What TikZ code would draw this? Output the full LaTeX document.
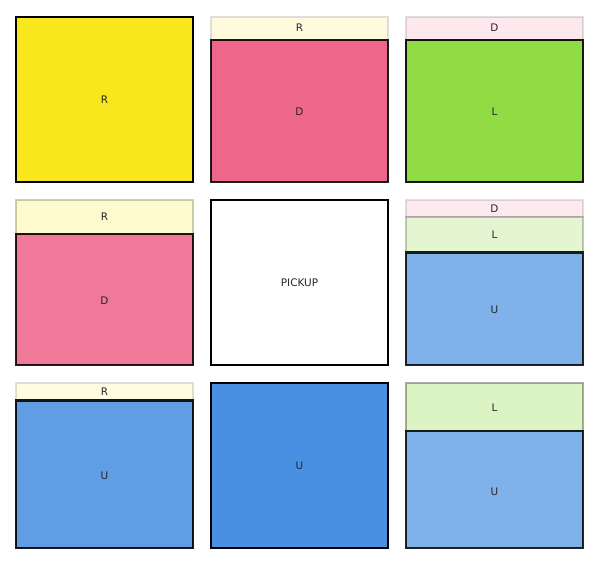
\documentclass[tikz,border=0pt]{standalone}
\usepackage{fontspec}
\newfontfamily\lblfont{DejaVu Sans}
\definecolor{yellowR}{HTML}{F8E71C}
\definecolor{pinkD}{HTML}{EE668A}
\definecolor{greenL}{HTML}{91DB45}
\definecolor{blueU}{HTML}{4A90E2}
\tikzset{
    layer/.style 2 args={fill=#1, draw=black, draw opacity=#2, line width=2.5pt},
    lbl/.style={font=\lblfont\fontsize{8.9}{10}\selectfont, text=black!85, inner sep=0pt}
}
\begin{document}
\begin{tikzpicture}[x=0.03cm, y=-0.03cm]

        \useasboundingbox (0,0) rectangle (600,565);

        %-- Hàng 1 --
        \path[layer={yellowR}{1}] (16,17) rectangle (193,182);
        \node[lbl] (a1R) at (104.5,100) {R};

        \path[layer={yellowR!15}{0.12}] (211,17) rectangle (388,40);
        \path[layer={pinkD}{0.88}] (211,40) rectangle (388,182);
        \node[lbl] (a2R) at (299.5,28) {R};
        \node[lbl] (a2D) at (299.5,112) {D};

        \path[layer={pinkD!15}{0.12}] (406,17) rectangle (583,40);
        \path[layer={greenL}{0.9}] (406,40) rectangle (583,182);
        \node[lbl] (a3D) at (494.5,28) {D};
        \node[lbl] (a3L) at (494.5,112) {L};

        %-- Hàng 2 --
        \path[layer={yellowR!22}{0.2}] (16,200) rectangle (193,234);
        \path[layer={pinkD!88}{0.88}] (16,234) rectangle (193,365);
        \node[lbl] (b1R) at (104.5,217) {R};
        \node[lbl] (b1D) at (104.5,301) {D};

        \path[layer={white}{1}] (211,200) rectangle (388,365);
        \node[lbl] (b2P) at (299.5,283) {PICKUP};

        \path[layer={pinkD!14}{0.12}] (406,200) rectangle (583,217);
        \path[layer={greenL!25}{0.22}] (406,217) rectangle (583,252.5);
        \path[layer={blueU!70}{0.85}] (406,252.5) rectangle (583,365);
        \node[lbl] (b3D) at (494.5,208.5) {D};
        \node[lbl] (b3L) at (494.5,234.5) {L};
        \node[lbl] (b3U) at (494.5,310) {U};

        %-- Hàng 3 --
        \path[layer={yellowR!13}{0.12}] (16,383) rectangle (193,400.5);
        \path[layer={blueU!88}{0.9}] (16,400.5) rectangle (193,548);
        \node[lbl] (c1R) at (104.5,391.5) {R};
        \node[lbl] (c1U) at (104.5,475.5) {U};

        \path[layer={blueU}{1}] (211,383) rectangle (388,548);
        \node[lbl] (c2U) at (299.5,466) {U};

        \path[layer={greenL!32}{0.32}] (406,383) rectangle (583,431);
        \path[layer={blueU!70}{0.85}] (406,431) rectangle (583,548);
        \node[lbl] (c3L) at (494.5,407.5) {L};
        \node[lbl] (c3U) at (494.5,491.5) {U};

    \end{tikzpicture}
\end{document}
